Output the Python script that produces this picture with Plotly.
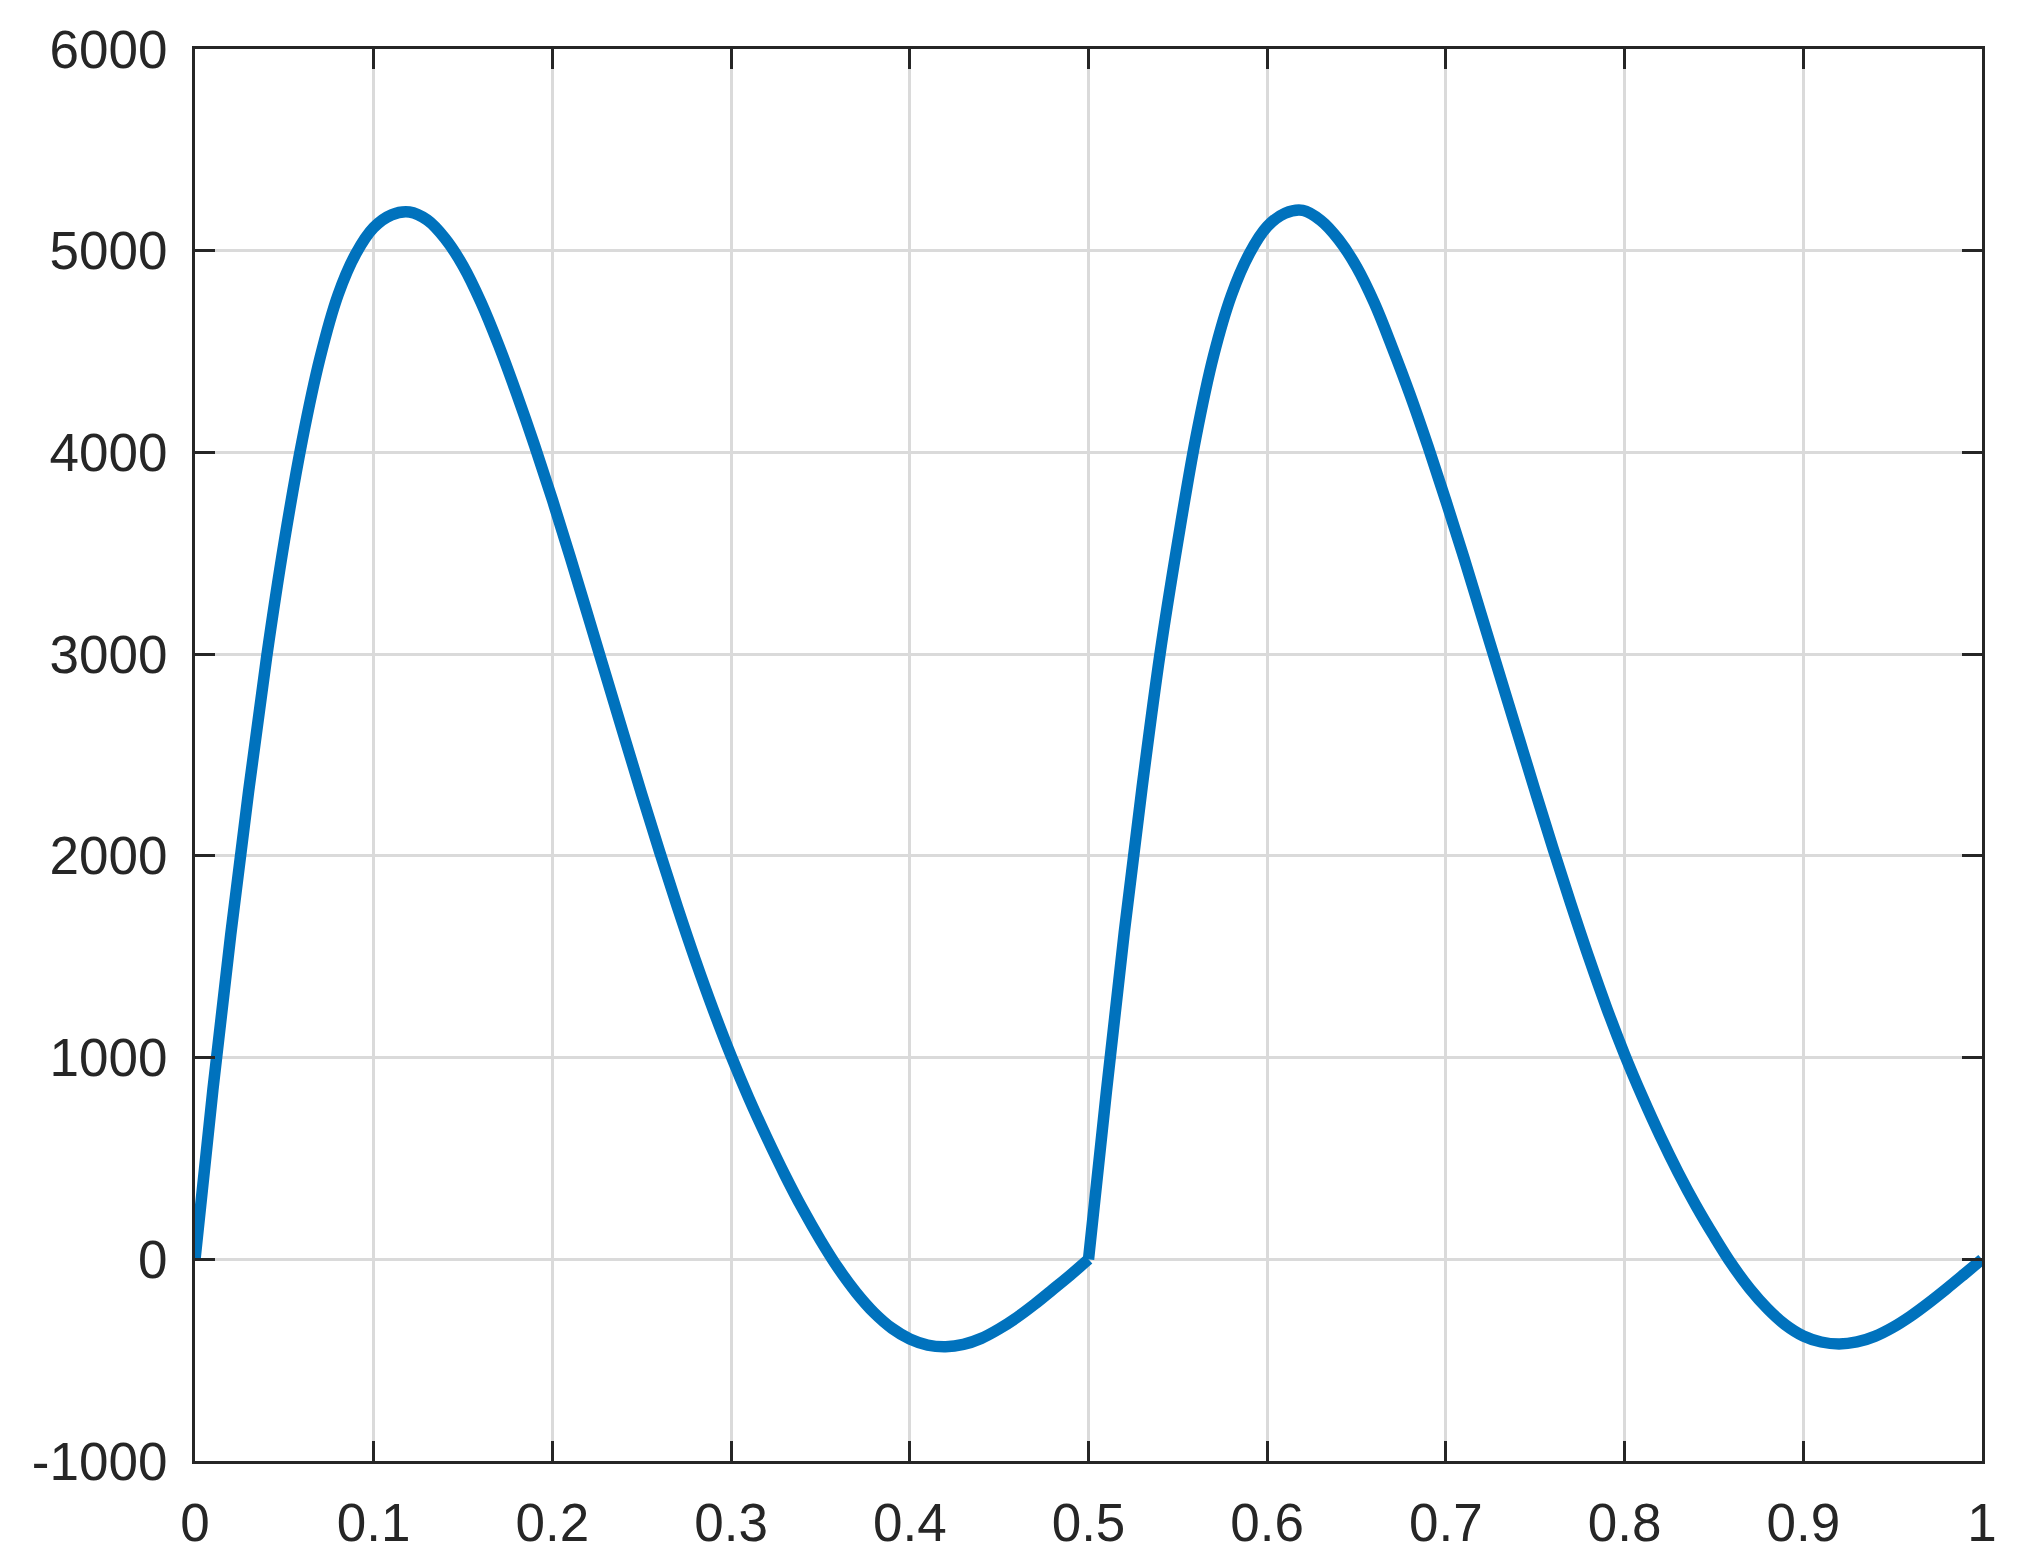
import plotly.graph_objects as go

# values (two half-second cycles)
t_first = [0.0, 0.01, 0.02, 0.03, 0.04, 0.05, 0.06, 0.07, 0.08, 0.09,
           0.10, 0.11, 0.12, 0.13, 0.14, 0.15, 0.16, 0.17, 0.18, 0.19,
           0.20, 0.21, 0.22, 0.23, 0.24, 0.25, 0.26, 0.27, 0.28, 0.29,
           0.30, 0.31, 0.32, 0.33, 0.34, 0.35, 0.36, 0.37, 0.38, 0.39,
           0.40, 0.41, 0.42, 0.43, 0.44, 0.45, 0.46, 0.47, 0.48, 0.49, 0.50]
v_first = [0, 840, 1610, 2320, 2980, 3560, 4060, 4470, 4780, 4985,
           5115, 5178, 5192, 5152, 5060, 4925, 4745, 4530, 4290, 4035,
           3765, 3480, 3187, 2892, 2597, 2305, 2020, 1745, 1483, 1237,
           1008, 797, 603, 420, 250, 95, -45, -165, -265, -342,
           -395, -425, -433, -422, -392, -345, -288, -222, -150, -77, 0]

t_second = [0.50, 0.51, 0.52, 0.53, 0.54, 0.55, 0.56, 0.57, 0.58, 0.59,
            0.60, 0.61, 0.62, 0.63, 0.64, 0.65, 0.66, 0.67, 0.68, 0.69,
            0.70, 0.71, 0.72, 0.73, 0.74, 0.75, 0.76, 0.77, 0.78, 0.79,
            0.80, 0.81, 0.82, 0.83, 0.84, 0.85, 0.86, 0.87, 0.88, 0.89,
            0.90, 0.91, 0.92, 0.93, 0.94, 0.95, 0.96, 0.97, 0.98, 0.99, 1.0]
v_second = [0, 830, 1620, 2340, 3000, 3560, 4070, 4480, 4780, 4985,
            5120, 5186, 5200, 5150, 5055, 4920, 4740, 4520, 4285, 4030,
            3760, 3480, 3190, 2900, 2610, 2320, 2035, 1760, 1495, 1245,
            1015, 805, 610, 430, 265, 115, -25, -145, -245, -325,
            -380, -410, -420, -410, -382, -338, -282, -217, -147, -74, 0]

x_ticks = [0, 0.1, 0.2, 0.3, 0.4, 0.5, 0.6, 0.7, 0.8, 0.9, 1]
x_labels = ["0", "0.1", "0.2", "0.3", "0.4", "0.5", "0.6", "0.7", "0.8", "0.9", "1"]
y_ticks = [-1000, 0, 1000, 2000, 3000, 4000, 5000, 6000]
y_labels = ["-1000", "0", "1000", "2000", "3000", "4000", "5000", "6000"]

fig = go.Figure()
# one trace per cycle so the corner at t=0.5 stays sharp
for t, v in [(t_first, v_first), (t_second, v_second)]:
    fig.add_trace(go.Scatter(
        x=t, y=v, mode="lines",
        line=dict(color="#0072BD", width=11.5, shape="spline", smoothing=1,
                  simplify=False),
    ))

axis_style = dict(
    showline=True, linecolor="#262626", linewidth=3, mirror="ticks",
    ticks="inside", ticklen=20, tickwidth=3, tickcolor="#262626",
    showgrid=True, gridcolor="#dadada", gridwidth=2.5, zeroline=False,
    automargin=False,
    tickfont=dict(family="Liberation Sans, Arial, sans-serif", size=53, color="#262626"),
)

fig.update_xaxes(range=[0, 1], tickvals=x_ticks, ticktext=x_labels,
                 ticklabelstandoff=13, **axis_style)
fig.update_yaxes(range=[-1000, 6000], tickvals=y_ticks, ticktext=y_labels,
                 ticklabelstandoff=14, **axis_style)

# page body has an 8px margin, so size and margins are trimmed by that much
fig.update_layout(
    width=2009, height=1557,
    margin=dict(l=187, r=35, t=41, b=104),
    paper_bgcolor="white", plot_bgcolor="white",
    showlegend=False,
)

fig.write_html("out.html")
